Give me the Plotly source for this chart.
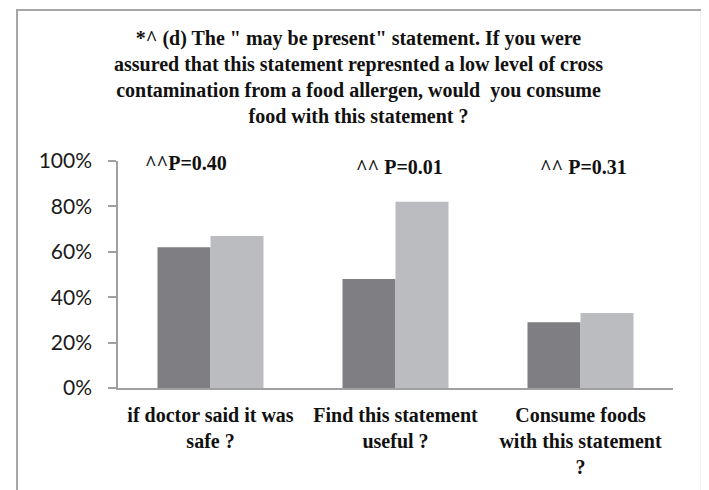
import plotly.graph_objects as go

categories = ["if doctor said it was<br>safe ?",
              "Find this statement<br>useful ?",
              "Consume foods<br>with this statement<br>?"]
group_a = [0.62, 0.48, 0.29]
group_b = [0.67, 0.82, 0.33]
p_labels = ["^^P=0.40", "^^ P=0.01", "^^ P=0.31"]
y_ticks = [0, 0.2, 0.4, 0.6, 0.8, 1.0]
y_tick_text = ["0%", "20%", "40%", "60%", "80%", "100%"]
title_text = ("*^ (d) The \" may be present\" statement. If you were<br>"
              "assured that this statement represnted a low level of cross<br>"
              "contamination from a food allergen, would  you consume<br>"
              "food with this statement ?")

serif = "Liberation Serif, Times New Roman, serif"

fig = go.Figure()
fig.add_trace(go.Bar(x=categories, y=group_a, marker=dict(color="#7e7e83", line=dict(width=0)),
                     showlegend=False))
fig.add_trace(go.Bar(x=categories, y=group_b, marker=dict(color="#bbbcc0", line=dict(width=0)),
                     showlegend=False))

shifts = [-25, 4, 3]
ys = [0.991, 0.974, 0.974]
for c, t, s, yy in zip(categories, p_labels, shifts, ys):
    fig.add_annotation(x=c, y=yy, xref="x", yref="paper", text="<b>" + t + "</b>",
                       showarrow=False, xshift=s, yanchor="middle",
                       font=dict(family=serif, size=20, color="#111111"))

fig.add_shape(type="rect", xref="paper", yref="paper",
              x0=-0.182, x1=1.052, y0=-0.6, y1=1.665,
              line=dict(color="#a6a6a6", width=2))

fig.update_layout(
    width=701, height=482,
    margin=dict(l=110, r=36, t=153, b=102),
    paper_bgcolor="white", plot_bgcolor="white",
    barmode="group", bargap=0.427, bargroupgap=0,
    title=dict(text="<b>" + title_text + "</b>", x=0.5, xanchor="center",
               y=0.923, yanchor="top", yref="container",
               font=dict(family=serif, size=20, color="#111111")),
    xaxis=dict(showline=True, linecolor="#a0a0a0", linewidth=2, ticks="",
               showgrid=False, zeroline=False,
               tickfont=dict(family=serif, size=20, color="#111111", weight="bold"),
               ticklabelstandoff=8),
    yaxis=dict(range=[0, 1], tickvals=y_ticks, ticktext=y_tick_text,
               showline=True, linecolor="#a0a0a0", linewidth=1.5,
               ticks="outside", ticklen=8, tickcolor="#a0a0a0", tickwidth=1.5,
               showgrid=False, zeroline=False,
               tickfont=dict(family="Lato, Carlito, sans-serif", size=21, color="#1a1a1a"),
               ticklabelstandoff=12),
)

fig.write_html("out.html")
